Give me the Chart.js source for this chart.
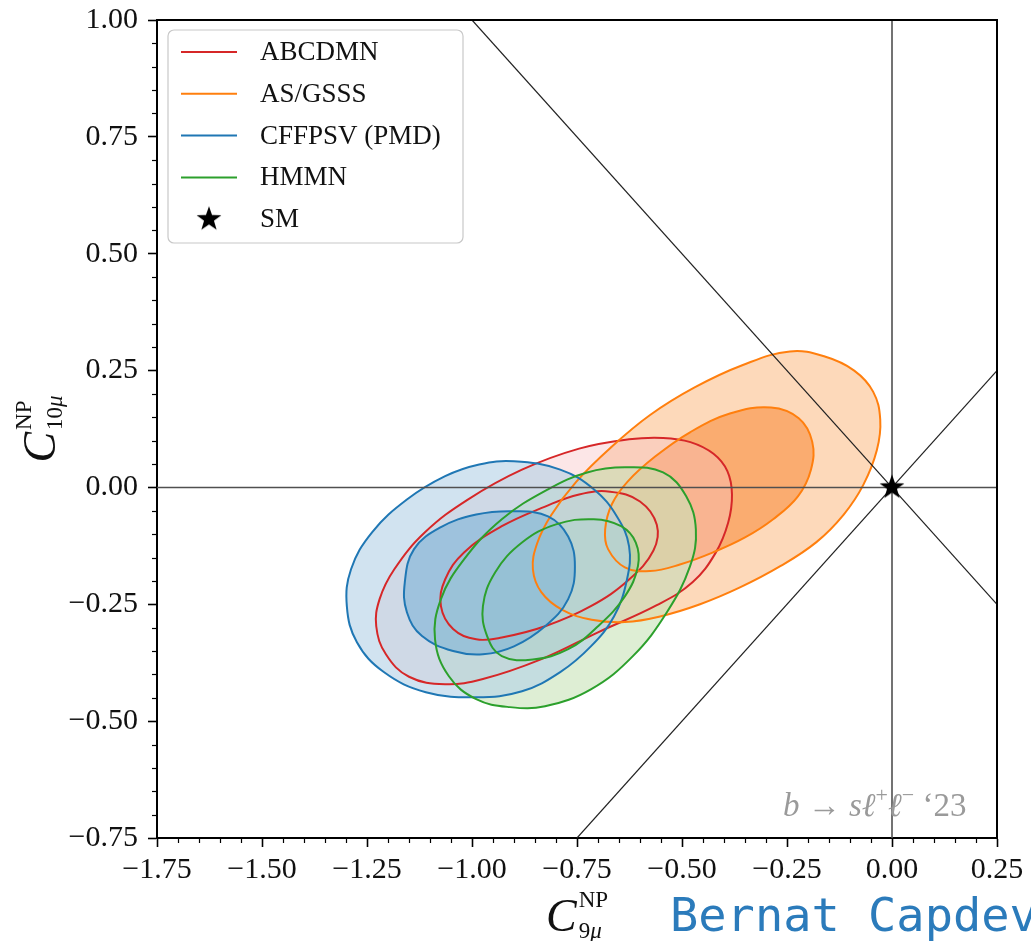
<!DOCTYPE html>
<html>
<head>
<meta charset="utf-8">
<script src="https://cdn.jsdelivr.net/npm/chart.js@4.4.1/dist/chart.umd.min.js"></script>
<style>
  html, body { margin: 0; padding: 0; background: #ffffff; overflow: hidden; }
  #wrap { position: relative; width: 1031px; height: 941px; }
</style>
</head>
<body>
<div id="wrap"><canvas id="chart" width="1031" height="941"></canvas></div>
<script>
// Global fit regions of the muon Wilson coefficients C9 and C10 (NP parts),
// one pair of contours (2 sigma outer, 1 sigma inner) per form-factor choice.

const fitNames = ['ABCDMN', 'AS/GSSS', 'CFFPSV (PMD)', 'HMMN'];
const smLabel = 'SM';

const xRange = [-1.75, 0.25];
const yRange = [-0.75, 1.00];
const majorStep = 0.25;
const minorStep = 0.05;

// contour outlines, [C9, C10] pairs
const abcdmnOuter = [[-0.626,0.103],[-0.545,0.106],[-0.480,0.097],[-0.425,0.072],[-0.392,0.035],[-0.381,-0.015],[-0.390,-0.075],[-0.420,-0.140],[-0.475,-0.203],[-0.560,-0.252],[-0.700,-0.310],[-0.836,-0.368],[-0.974,-0.410],[-1.064,-0.421],[-1.150,-0.405],[-1.205,-0.357],[-1.228,-0.297],[-1.220,-0.239],[-1.185,-0.175],[-1.112,-0.096],[-1.010,-0.026],[-0.881,0.038],[-0.745,0.083]];
const abcdmnInner = [[-0.671,-0.009],[-0.600,-0.030],[-0.560,-0.080],[-0.568,-0.135],[-0.626,-0.197],[-0.717,-0.254],[-0.826,-0.297],[-0.929,-0.321],[-0.990,-0.325],[-1.045,-0.303],[-1.074,-0.254],[-1.064,-0.197],[-1.019,-0.139],[-0.929,-0.083],[-0.826,-0.041],[-0.745,-0.015]];

const asgsssOuter = [[-0.243,0.291],[-0.160,0.280],[-0.090,0.250],[-0.045,0.205],[-0.028,0.145],[-0.036,0.080],[-0.068,0.006],[-0.115,-0.058],[-0.180,-0.117],[-0.265,-0.168],[-0.362,-0.214],[-0.457,-0.250],[-0.552,-0.276],[-0.636,-0.288],[-0.715,-0.283],[-0.785,-0.262],[-0.835,-0.224],[-0.855,-0.175],[-0.845,-0.120],[-0.812,-0.060],[-0.752,0.012],[-0.670,0.085],[-0.576,0.155],[-0.470,0.214],[-0.355,0.262]];
const asgsssInner = [[-0.288,0.171],[-0.222,0.148],[-0.190,0.098],[-0.193,0.038],[-0.224,-0.019],[-0.283,-0.068],[-0.350,-0.107],[-0.426,-0.139],[-0.505,-0.165],[-0.576,-0.179],[-0.636,-0.171],[-0.676,-0.132],[-0.683,-0.090],[-0.667,-0.036],[-0.629,0.013],[-0.564,0.066],[-0.481,0.118],[-0.386,0.158]];

const cffpsvOuter = [[-0.900,0.056],[-0.790,0.038],[-0.710,-0.004],[-0.655,-0.062],[-0.626,-0.126],[-0.631,-0.197],[-0.662,-0.276],[-0.717,-0.340],[-0.790,-0.395],[-0.881,-0.436],[-0.990,-0.449],[-1.110,-0.438],[-1.210,-0.395],[-1.274,-0.331],[-1.298,-0.254],[-1.288,-0.175],[-1.238,-0.096],[-1.155,-0.026],[-1.064,0.024],[-0.983,0.049]];
const cffpsvInner = [[-0.900,-0.051],[-0.819,-0.062],[-0.771,-0.105],[-0.755,-0.169],[-0.771,-0.239],[-0.826,-0.297],[-0.900,-0.340],[-0.974,-0.357],[-1.045,-0.350],[-1.119,-0.318],[-1.155,-0.267],[-1.160,-0.203],[-1.138,-0.132],[-1.074,-0.085],[-0.990,-0.058]];

const hmmnOuter = [[-0.636,0.043],[-0.545,0.032],[-0.490,-0.019],[-0.467,-0.090],[-0.481,-0.169],[-0.536,-0.267],[-0.617,-0.361],[-0.717,-0.432],[-0.826,-0.468],[-0.910,-0.470],[-0.990,-0.453],[-1.055,-0.404],[-1.088,-0.325],[-1.074,-0.239],[-1.019,-0.154],[-0.929,-0.068],[-0.819,-0.004],[-0.726,0.032]];
const hmmnInner = [[-0.710,-0.068],[-0.645,-0.083],[-0.610,-0.118],[-0.605,-0.169],[-0.636,-0.233],[-0.700,-0.297],[-0.771,-0.346],[-0.855,-0.368],[-0.929,-0.361],[-0.964,-0.318],[-0.974,-0.254],[-0.945,-0.182],[-0.881,-0.118],[-0.800,-0.079]];

// Standard Model point and guide lines
const smPoint = [[0, 0]];
const guideHorizontal = [[-1.75, 0], [0.25, 0]];
const guideVertical = [[0, -0.75], [0, 1.00]];
const guideAntiDiagonal = [[-1.00, 1.00], [0.25, -0.25]];
const guideDiagonal = [[-0.75, -0.75], [0.25, 0.25]];

const lineColors = ['#d62728', '#ff7f0e', '#1f77b4', '#2ca02c'];
const outerFill = ['rgba(247,193,194,0.40)', 'rgba(252,192,140,0.60)', 'rgba(180,210,230,0.62)', 'rgba(200,227,183,0.60)'];
const innerFill = ['rgba(247,193,194,0.22)', 'rgba(248,142,63,0.60)', 'rgba(127,180,215,0.60)', 'rgba(169,211,159,0.60)'];
// stacking of the shaded regions, bottom first
const fillStack = [1, 0, 3, 2];

const SERIF = '"Liberation Serif", "DejaVu Serif", serif';

function toPoints(pairs) {
  return pairs.map(([x, y]) => ({ x, y }));
}
// closed outline, wrapped by one point on each side so the spline runs smoothly through the seam
function toLoop(pairs) {
  const n = pairs.length;
  return toPoints([pairs[n - 1], ...pairs, pairs[0], pairs[1]]);
}

function fmtTick(v) {
  const s = Number(v).toFixed(2);
  return s.startsWith('-') ? '\u2212' + s.slice(1) : s;
}

// filled five-point star used as a point style
function makeStar(size, outerR, innerR) {
  const c = document.createElement('canvas');
  c.width = size; c.height = size;
  const g = c.getContext('2d');
  g.fillStyle = '#000';
  g.beginPath();
  for (let i = 0; i < 10; i++) {
    const r = i % 2 === 0 ? outerR : innerR;
    const a = -Math.PI / 2 + i * Math.PI / 5;
    const px = size / 2 + r * Math.cos(a), py = size / 2 + r * Math.sin(a);
    if (i === 0) g.moveTo(px, py); else g.lineTo(px, py);
  }
  g.closePath();
  g.fill();
  return c;
}
const starImg = makeStar(30, 13, 5.2);

const regions = [
  [abcdmnOuter, abcdmnInner],
  [asgsssOuter, asgsssInner],
  [cffpsvOuter, cffpsvInner],
  [hmmnOuter, hmmnInner]
];

const datasets = [];

// shaded regions
fillStack.forEach((i, level) => {
  const base = 100 - level * 10;
  [[regions[i][0], outerFill[i], base], [regions[i][1], innerFill[i], base - 1]].forEach(([pairs, bg, ord]) => {
    datasets.push({
      label: fitNames[i] + ' region',
      data: toLoop(pairs),
      borderColor: 'rgba(0,0,0,0)',
      borderWidth: 1,
      backgroundColor: bg,
      fill: 'shape',
      tension: 0.4,
      pointRadius: 0,
      order: ord
    });
  });
});

// contour outlines on top of every shaded region
regions.forEach((pair, i) => {
  pair.forEach((pairs, j) => {
    const pts = toLoop(pairs);
    const last = pts.length - 2;
    datasets.push({
      label: fitNames[i] + (j ? ' 1\u03c3' : ' 2\u03c3'),
      data: pts,
      borderColor: lineColors[i],
      borderWidth: 2,
      fill: false,
      tension: 0.4,
      pointRadius: 0,
      segment: {
        borderColor: (c) => (c.p0DataIndex === 0 || c.p0DataIndex === last) ? 'rgba(0,0,0,0)' : undefined
      },
      order: 50 - i * 2 - j
    });
  });
});

[[guideHorizontal, '#505050', 1.6], [guideVertical, '#505050', 1.6],
 [guideAntiDiagonal, '#222222', 1.2], [guideDiagonal, '#222222', 1.2]].forEach(([pts, col, w]) => {
  datasets.push({
    label: 'guide',
    data: toPoints(pts),
    borderColor: col,
    borderWidth: w,
    fill: false,
    tension: 0,
    pointRadius: 0,
    order: 5
  });
});

datasets.push({
  label: smLabel,
  data: toPoints(smPoint),
  showLine: false,
  pointStyle: starImg,
  pointRadius: 13,
  order: 0
});

// frame, minor ticks, axis titles, legend and captions
const decorations = {
  id: 'decorations',
  afterDraw(chart) {
    const { ctx, chartArea: a } = chart;
    const xs = chart.scales.x, ys = chart.scales.y;
    ctx.save();

    // top and right spines
    ctx.strokeStyle = '#000';
    ctx.lineWidth = 2;
    ctx.beginPath();
    ctx.moveTo(a.left, a.top);
    ctx.lineTo(a.right, a.top);
    ctx.lineTo(a.right, a.bottom);
    ctx.stroke();

    // minor ticks
    ctx.lineWidth = 1.2;
    const nx = Math.round((xRange[1] - xRange[0]) / minorStep);
    for (let k = 0; k <= nx; k++) {
      if (k % 5 === 0) continue;
      const px = Math.round(xs.getPixelForValue(xRange[0] + k * minorStep)) + 0.5;
      ctx.beginPath(); ctx.moveTo(px, a.bottom); ctx.lineTo(px, a.bottom + 5); ctx.stroke();
    }
    const ny = Math.round((yRange[1] - yRange[0]) / minorStep);
    for (let k = 0; k <= ny; k++) {
      if (k % 5 === 0) continue;
      const py = Math.round(ys.getPixelForValue(yRange[0] + k * minorStep)) + 0.5;
      ctx.beginPath(); ctx.moveTo(a.left, py); ctx.lineTo(a.left - 5, py); ctx.stroke();
    }

    // axis titles  C^NP_{9mu}, C^NP_{10mu}
    function coefLabel(cx, cy, rot, sub) {
      ctx.save();
      ctx.translate(cx, cy);
      ctx.rotate(rot);
      ctx.fillStyle = '#111';
      ctx.textBaseline = 'alphabetic';
      ctx.textAlign = 'left';
      const fC = 'italic 46px ' + SERIF;
      const fS = '23px ' + SERIF;
      const fSi = 'italic 23px ' + SERIF;
      ctx.font = fC; const wC = ctx.measureText('C').width;
      ctx.font = fS; const wSup = ctx.measureText('NP').width;
      const subDigits = sub.slice(0, -1);
      const wD = ctx.measureText(subDigits).width;
      ctx.font = fSi; const wMu = ctx.measureText('\u03bc').width;
      const total = wC + 2 + Math.max(wSup, wD + wMu);
      const x0 = -total / 2;
      ctx.font = fC; ctx.fillText('C', x0, 0);
      const xs2 = x0 + wC + 2;
      ctx.font = fS; ctx.fillText('NP', xs2, -24);
      ctx.fillText(subDigits, xs2, 7);
      ctx.font = fSi; ctx.fillText('\u03bc', xs2 + wD, 7);
      ctx.restore();
    }
    coefLabel((a.left + a.right) / 2, 931, 0, '9\u03bc');
    coefLabel(55, (a.top + a.bottom) / 2, -Math.PI / 2, '10\u03bc');

    // process tag inside the frame
    ctx.save();
    ctx.fillStyle = '#9a9a9a';
    ctx.textBaseline = 'alphabetic';
    let tx = a.right - 214, ty = a.bottom - 22;
    const put = (t, f, dy) => { ctx.font = f; ctx.fillText(t, tx, ty + (dy || 0)); tx += ctx.measureText(t).width; };
    put('b', 'italic 33px ' + SERIF);
    put(' \u2192 ', '33px ' + SERIF);
    put('s\u2113', 'italic 33px ' + SERIF);
    put('+', '22px ' + SERIF, -14);
    put('\u2113', 'italic 33px ' + SERIF);
    put('\u2212', '22px ' + SERIF, -14);
    put(' \u201823', '33px ' + SERIF);
    ctx.restore();

    // legend box
    const lx = a.left + 11, ly = a.top + 10, lw = 295, lh = 213, r = 6;
    ctx.beginPath();
    ctx.moveTo(lx + r, ly);
    ctx.arcTo(lx + lw, ly, lx + lw, ly + lh, r);
    ctx.arcTo(lx + lw, ly + lh, lx, ly + lh, r);
    ctx.arcTo(lx, ly + lh, lx, ly, r);
    ctx.arcTo(lx, ly, lx + lw, ly, r);
    ctx.closePath();
    ctx.fillStyle = 'rgba(255,255,255,0.85)';
    ctx.fill();
    ctx.strokeStyle = '#c8c8c8';
    ctx.lineWidth = 1.2;
    ctx.stroke();

    const rowY = (k) => ly + 22 + k * 41.8;
    ctx.font = '27px ' + SERIF;
    ctx.textBaseline = 'middle';
    ctx.textAlign = 'left';
    fitNames.forEach((name, k) => {
      ctx.strokeStyle = lineColors[k];
      ctx.lineWidth = 2;
      ctx.beginPath();
      ctx.moveTo(lx + 13, rowY(k));
      ctx.lineTo(lx + 69, rowY(k));
      ctx.stroke();
      ctx.fillStyle = '#111';
      ctx.fillText(name, lx + 92, rowY(k) + 1);
    });
    ctx.drawImage(starImg, lx + 41 - 15, rowY(4) - 15);
    ctx.fillStyle = '#111';
    ctx.fillText(smLabel, lx + 92, rowY(4) + 1);

    // author credit
    ctx.font = '47px "DejaVu Sans Mono", monospace';
    ctx.fillStyle = '#2b7bbb';
    ctx.textBaseline = 'alphabetic';
    ctx.fillText('Bernat Capdev', 670, 931);

    ctx.restore();
  }
};

new Chart(document.getElementById('chart'), {
  type: 'line',
  data: { datasets },
  options: {
    responsive: false,
    animation: false,
    devicePixelRatio: 1,
    layout: { padding: { left: 0, right: 34, top: 20, bottom: 0 } },
    plugins: { legend: { display: false }, tooltip: { enabled: false } },
    scales: {
      x: {
        type: 'linear',
        min: xRange[0], max: xRange[1],
        afterFit(s) { s.height = 103; s.paddingLeft = 0; s.paddingRight = 0; },
        ticks: { stepSize: majorStep, callback: fmtTick, font: { family: SERIF, size: 30 }, color: '#111', padding: 5, maxRotation: 0, autoSkip: false },
        grid: { drawOnChartArea: false, drawTicks: true, tickLength: 9, tickWidth: 1.6, tickColor: '#000' },
        border: { display: true, color: '#000', width: 2 }
      },
      y: {
        type: 'linear',
        min: yRange[0], max: yRange[1],
        afterFit(s) { s.width = 157; s.paddingTop = 0; s.paddingBottom = 0; },
        ticks: { stepSize: majorStep, callback: fmtTick, font: { family: SERIF, size: 30 }, color: '#111', padding: 10, autoSkip: false },
        grid: { drawOnChartArea: false, drawTicks: true, tickLength: 9, tickWidth: 1.6, tickColor: '#000' },
        border: { display: true, color: '#000', width: 2 }
      }
    }
  },
  plugins: [decorations]
});
</script>
</body>
</html>
